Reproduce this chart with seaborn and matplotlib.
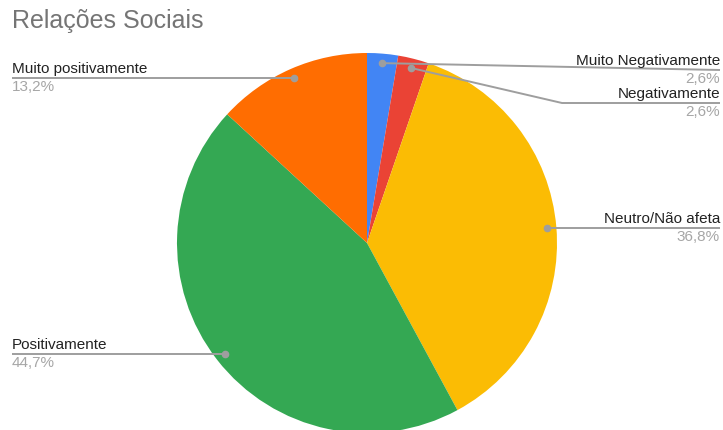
import numpy as np
import matplotlib
matplotlib.use("Agg")
import matplotlib.pyplot as plt
import seaborn as sns

# Survey answers: effect on social relationships
categories = ["Muito Negativamente", "Negativamente", "Neutro/Não afeta",
              "Positivamente", "Muito positivamente"]
counts = [1, 1, 14, 17, 5]
colors = ["#4285F4", "#EA4335", "#FBBC04", "#34A853", "#FF6D01"]
title = "Relações Sociais"

sns.set_theme(style="white")
plt.rcParams["font.family"] = ["Liberation Sans", "DejaVu Sans"]

W, H = 723, 430
fig = plt.figure(figsize=(W / 100, H / 100), dpi=100)
ax = fig.add_axes([0, 0, 1, 1])
ax.set_xlim(0, W)
ax.set_ylim(0, H)
ax.set_aspect("equal")
ax.axis("off")


def py(y):
    """Convert a top-down pixel row into the axis' y coordinate."""
    return H - y


cx, cy, r = 367, 243, 190
wedges, _ = ax.pie(counts, colors=colors, startangle=90, counterclock=False,
                   center=(cx, py(cy)), radius=r, frame=True,
                   wedgeprops=dict(edgecolor="none", linewidth=0))
ax.set_xlim(0, W)
ax.set_ylim(0, H)
ax.axis("off")

total = sum(counts)
pct = [f"{c / total * 100:.1f}%".replace(".", ",") for c in counts]

# anchor dot for each slice, at 95% of the radius along its middle angle
anchors = []
for w in wedges:
    mid = np.deg2rad((w.theta1 + w.theta2) / 2)
    anchors.append((cx + 0.95 * r * np.cos(mid), py(cy) + 0.95 * r * np.sin(mid)))

line_c = "#9E9E9E"
name_c = "#222222"
pct_c = "#A6A6A6"
fs = 11

# leader-line routes (pixel coordinates after the anchor) and label settings
routes = [
    ([(720, 70)], 720, "right"),
    ([(562, 103), (720, 103)], 720, "right"),
    ([(720, None)], 720, "right"),
    ([(12, None)], 12, "left"),
    ([(12, None)], 12, "left"),
]

for (ax0, ay0), (pts, tx, ha), name, p in zip(anchors, routes, categories, pct):
    xs, ys = [ax0], [ay0]
    for (x, y) in pts:
        xs.append(x)
        ys.append(ay0 if y is None else py(y))
    ax.plot(xs, ys, color=line_c, lw=1.4, solid_capstyle="butt", zorder=3)
    ax.plot([ax0], [ay0], "o", color=line_c, ms=4.5, zorder=4)
    ly = ys[-1]
    ax.text(tx, ly + 2, name, ha=ha, va="bottom", fontsize=fs, color=name_c)
    ax.text(tx, ly - 2, p, ha=ha, va="top", fontsize=fs, color=pct_c)

fig.text(12 / W, 1 - 21 / H, title, ha="left", va="center",
         fontsize=18, color="#757575")

fig.savefig("out.png", dpi=100)
